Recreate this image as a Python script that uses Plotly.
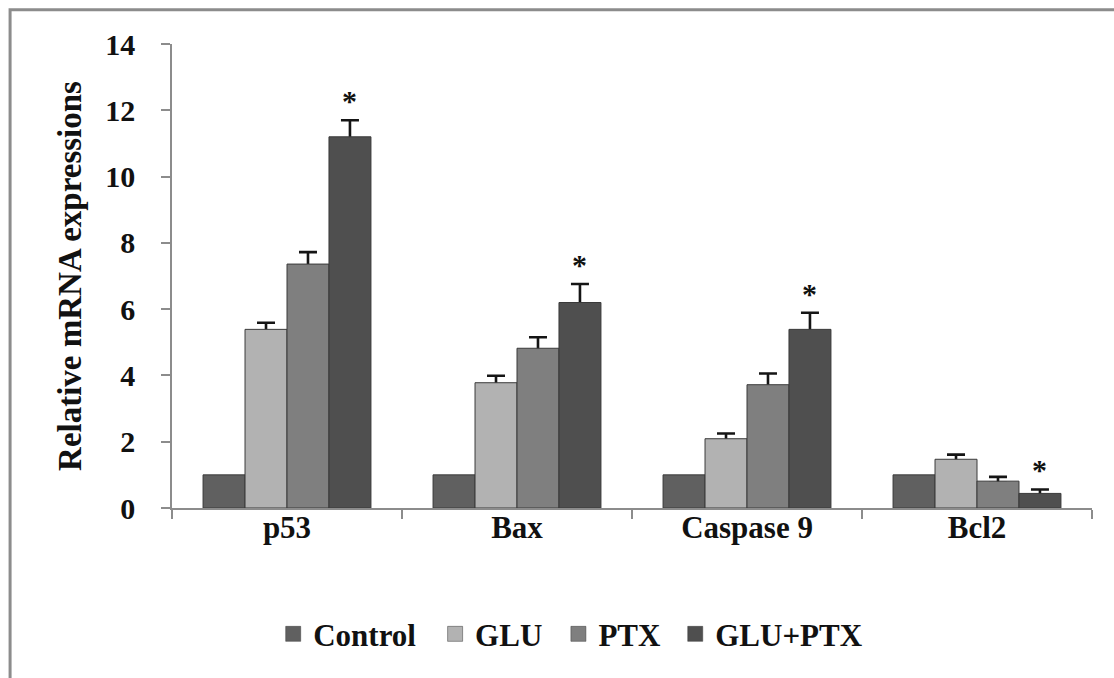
import plotly.graph_objects as go

genes = ["p53", "Bax", "Caspase 9", "Bcl2"]
groups = ["Control", "GLU", "PTX", "GLU+PTX"]

control = [1.0, 1.0, 1.0, 1.0]
glu = [5.39, 3.78, 2.09, 1.47]
ptx = [7.36, 4.82, 3.72, 0.81]
glu_ptx = [11.2, 6.2, 5.39, 0.44]

control_err = [0, 0, 0, 0]
glu_err = [0.2, 0.21, 0.16, 0.14]
ptx_err = [0.36, 0.33, 0.34, 0.13]
glu_ptx_err = [0.5, 0.56, 0.5, 0.12]

significant = ["*", "*", "*", "*"]

colors = ["#606060", "#b2b2b2", "#7f7f7f", "#4f4f4f"]
series = [control, glu, ptx, glu_ptx]
errors = [control_err, glu_err, ptx_err, glu_ptx_err]

FONT = "Liberation Serif"
legend_ids = ["legend", "legend2", "legend3", "legend4"]
# left edge (paper x) of each legend entry
legend_x = [0.11, 0.286, 0.42, 0.547]
# small downward offset so the lower error-bar cap sits hidden inside the bar
CAP_SINK = 0.06

fig = go.Figure()

# upper error bars only: an invisible carrier bar per group, drawn first
for name, vals, errs in zip(groups, series, errors):
    fig.add_trace(go.Bar(
        name=name + " SEM", x=genes,
        y=[v - CAP_SINK for v in vals],
        offsetgroup=name, showlegend=False, hoverinfo="skip",
        marker=dict(color="rgba(0,0,0,0)", line=dict(width=0)),
        error_y=dict(
            type="data",
            array=[e + CAP_SINK for e in errs],
            arrayminus=[0] * len(errs),
            symmetric=False,
            color="#151515", thickness=2.6, width=9,
            visible=any(e > 0 for e in errs),
        ),
    ))

# the bars themselves, painted over the carriers
for name, vals, col in zip(groups, series, colors):
    fig.add_trace(go.Bar(
        name=name, x=genes, y=vals,
        offsetgroup=name, showlegend=False,
        marker=dict(color=col, line=dict(color="#3a3a3a", width=1)),
    ))

# legend entries with larger square swatches, one legend per group
for name, col, lid in zip(groups, colors, legend_ids):
    fig.add_trace(go.Scatter(
        name=name, x=[None], y=[None], mode="markers",
        marker=dict(symbol="square", size=15, color=col,
                    line=dict(color="#3a3a3a", width=0.5)),
        legend=lid, showlegend=True,
    ))

# significance markers above the combined-treatment bars
for g, v, e, s in zip(genes, glu_ptx, glu_ptx_err, significant):
    fig.add_annotation(
        x=g, y=v + e, xref="x", yref="y",
        text=f"<b>{s}</b>", showarrow=False,
        xshift=62, yanchor="bottom", yshift=1,
        font=dict(family=FONT, size=30, color="#111"),
    )

# frame around the figure
fig.add_shape(
    type="rect", xref="paper", yref="paper",
    x0=-0.176, x1=1.5, y0=-1.0, y1=1.074,
    line=dict(color="#8c8c8c", width=3), layer="below",
)

legend_style = dict(
    orientation="h", xanchor="left", y=-0.272, yanchor="middle",
    font=dict(family=FONT, size=31, color="#111", weight="bold"),
    bgcolor="rgba(0,0,0,0)", borderwidth=0,
)
legends = {}
for lid, lx in zip(legend_ids, legend_x):
    legends[lid] = dict(legend_style, x=lx)

fig.update_layout(
    width=1114, height=678,
    margin=dict(l=172, r=22, t=44, b=170),
    plot_bgcolor="white", paper_bgcolor="white",
    barmode="group", bargap=0.27, bargroupgap=0,
    font=dict(family=FONT, color="#111"),
    xaxis=dict(
        showline=True, linecolor="#8c8c8c", linewidth=1.5,
        ticks="outside", ticklen=9, tickcolor="#8c8c8c", tickwidth=1.5,
        tickson="boundaries", ticklabelstandoff=-9,
        tickfont=dict(family=FONT, size=31, color="#111", weight="bold"),
        showgrid=False, zeroline=False,
    ),
    yaxis=dict(
        range=[0, 14], tickvals=[0, 2, 4, 6, 8, 10, 12, 14],
        showline=True, linecolor="#8c8c8c", linewidth=1.5,
        ticks="outside", ticklen=9, tickcolor="#8c8c8c", tickwidth=1.5,
        ticklabelstandoff=20,
        tickfont=dict(family=FONT, size=30, color="#111", weight="bold"),
        title=dict(text="Relative mRNA expressions", standoff=14,
                   font=dict(family=FONT, size=33, color="#111", weight="bold")),
        showgrid=False, zeroline=False,
    ),
    **legends,
)

fig.write_html("out.html")
